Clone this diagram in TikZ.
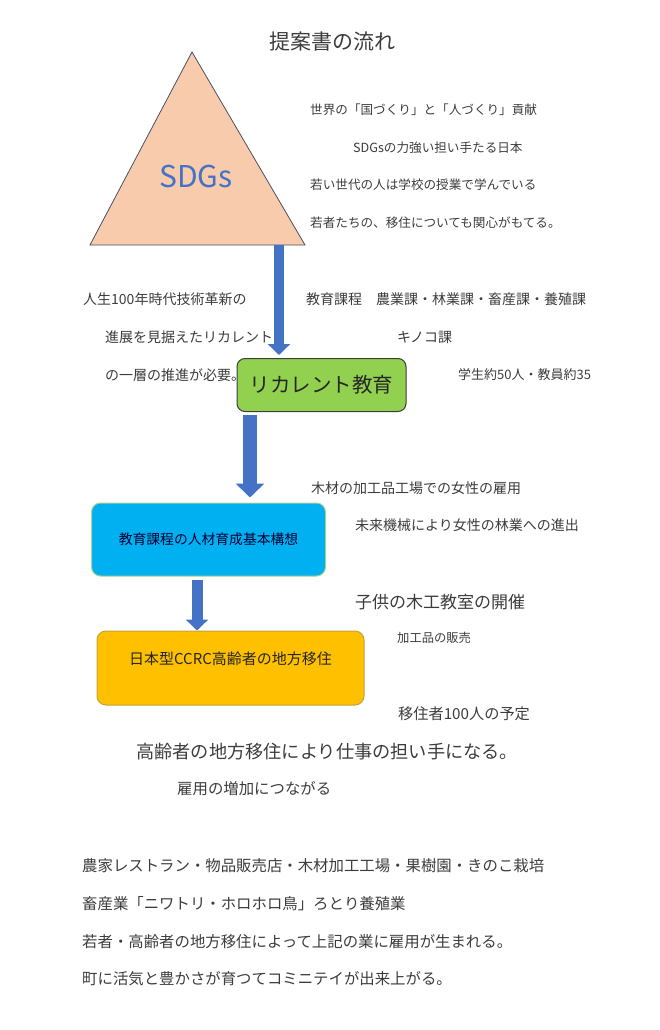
\documentclass[tikz,border=0pt]{standalone}
\usepackage{fontspec}
\setmainfont{Noto Sans CJK JP}
\usepackage{xcolor}
\usetikzlibrary{arrows.meta}
\definecolor{inkgray}{HTML}{3C3C3C}
\definecolor{sdgsfill}{HTML}{F8CBAD}
\definecolor{sdgsedge}{HTML}{4A5060}
\definecolor{arrowblue}{HTML}{4472C4}
\definecolor{recfill}{HTML}{92D050}
\definecolor{planfill}{HTML}{00B0F0}
\definecolor{planedge}{HTML}{A9D18E}
\definecolor{ccrcfill}{HTML}{FFC000}
\definecolor{ccrcedge}{HTML}{C2A33A}
\newcommand\fs[1]{\fontsize{#1}{#1}\selectfont}
\newcommand\remark[4][]{\node[remark,#1] (#2) at (#3) {#4};}

\begin{document}
\begin{tikzpicture}[x=1pt,y=-1pt]
\tikzstyle{remark}=[anchor=west,inner sep=0pt,text=inkgray,font=\fs{12.6}]
\tikzstyle{box}=[draw,line width=1pt,rounded corners=9pt,inner sep=0pt]
\tikzstyle{bigarrow}=[draw=arrowblue,line width=10pt,-{Triangle[width=22pt,length=11pt]}]
\useasboundingbox (0,0) rectangle (660,1030);
\node[font=\fs{21},text=inkgray] (title) at (332,42) {提案書の流れ};
% SDGs triangle
\coordinate (apex) at (192,52);
\coordinate (baseL) at (90,245);
\coordinate (baseR) at (305,245);
\coordinate (drop) at (279,245);
\filldraw[fill=sdgsfill,draw=sdgsedge,line width=0.8pt] (apex) -- (baseL) -- (baseR) -- cycle;
\node[font=\fs{30},text=arrowblue] (sdgs) at (196,177) {SDGs};
% notes beside the triangle
\remark{world}{310,110}{世界の「国づくり」と「人づくり」貢献}
\remark{japan}{353,148}{SDGsの力強い担い手たる日本}
\remark{youth}{310,185}{若い世代の人は学校の授業で学んでいる}
\remark{interest}{310,223}{若者たちの、移住についても関心がもてる。}
% notes round the recurrent box
\remark[font=\fs{14}]{life}{83,299}{人生100年時代技術革新の}
\remark[font=\fs{14}]{progress}{105,337}{進展を見据えたリカレント}
\remark[font=\fs{14}]{needed}{105,375}{の一層の推進が必要。}
\remark[font=\fs{14}]{course}{306,299}{教育課程　農業課・林業課・畜産課・養殖課}
\remark[font=\fs{14}]{kinoko}{397,337}{キノコ課}
\remark[font=\fs{13}]{staff}{458,375}{学生約50人・教員約35}
% notes round the plan boxes
\remark[font=\fs{14}]{women}{311,488}{木材の加工品工場での女性の雇用}
\remark[font=\fs{14}]{forestry}{355,525}{未来機械により女性の林業への進出}
\remark[font=\fs{17}]{school}{355,602}{子供の木工教室の開催}
\remark[font=\fs{12.3}]{sales}{397,638}{加工品の販売}
\remark[font=\fs{15.2}]{movers}{398,714}{移住者100人の予定}
\remark[font=\fs{18.2}]{workers}{136,752}{高齢者の地方移住により仕事の担い手になる。}
\remark[font=\fs{15.4}]{jobs}{177,789}{雇用の増加につながる}
% closing lines
\remark[font=\fs{15.4}]{shops}{82,866}{農家レストラン・物品販売店・木材加工工場・果樹園・きのこ栽培}
\remark[font=\fs{15.4}]{poultry}{82,904}{畜産業「ニワトリ・ホロホロ鳥」ろとり養殖業}
\remark[font=\fs{15.4}]{employ}{82,942}{若者・高齢者の地方移住によって上記の業に雇用が生まれる。}
\remark[font=\fs{15.4}]{town}{82,979}{町に活気と豊かさが育つてコミニテイが出来上がる。}
% flow boxes
\node[box,rounded corners=8pt,fill=recfill,draw=inkgray,minimum width=169pt,minimum height=53pt,font=\fs{20.5},text=black!85] (rec) at (321.5,385) {リカレント教育};
\node[box,fill=planfill,draw=planedge,minimum width=234pt,minimum height=73pt,font=\fs{13.8},text=black!80!blue] (plan) at (208.5,539.5) {教育課程の人材育成基本構想};
\node[box,fill=ccrcfill,draw=ccrcedge,minimum width=267pt,minimum height=74pt,font=\fs{15},text=black!85] (ccrc) at (230.5,668) {\raisebox{9pt}[\height][\depth]{日本型CCRC高齢者の地方移住}};
% block arrows
\draw[bigarrow] (drop) -- ([yshift=3pt]rec.north -| drop);
\coordinate (mid) at (250,0);
\draw[bigarrow,line width=14.5pt,-{Triangle[width=28pt,length=14pt]}] ([yshift=-3pt]rec.south -| mid) -- ([yshift=5pt]plan.north -| mid);
\coordinate (low) at (197,0);
\draw[bigarrow,line width=11pt] ([yshift=-3pt]plan.south -| low) -- (ccrc.north -| low);
\end{tikzpicture}
\end{document}
